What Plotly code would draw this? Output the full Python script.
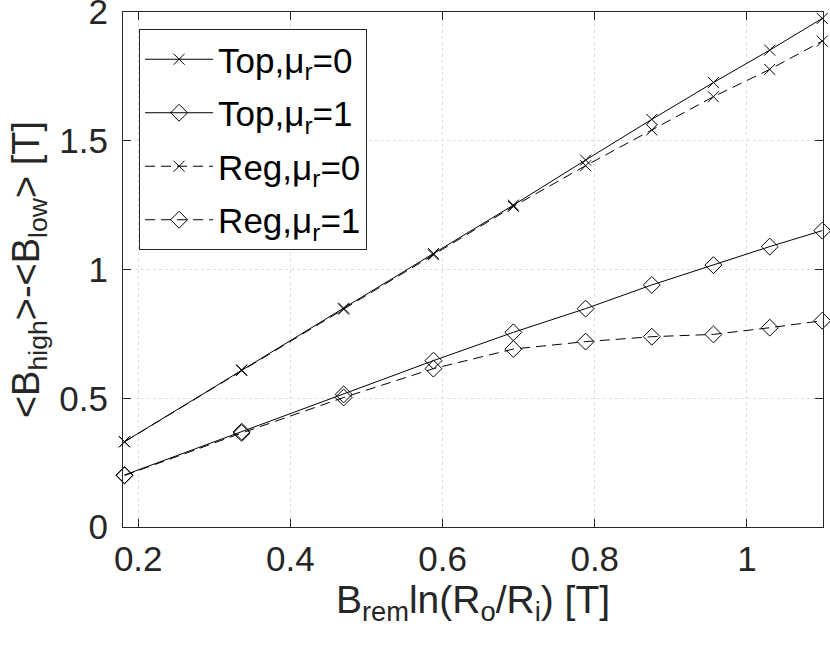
import plotly.graph_objects as go

# B_rem ln(Ro/Ri) values
x_vals = [0.182, 0.336, 0.470, 0.588, 0.693, 0.788, 0.875, 0.956, 1.030, 1.099]

top_mu0 = [0.331, 0.610, 0.850, 1.062, 1.250, 1.425, 1.583, 1.726, 1.852, 1.975]
top_mu1 = [0.202, 0.370, 0.515, 0.646, 0.756, 0.848, 0.940, 1.017, 1.089, 1.151]
reg_mu0 = [0.331, 0.608, 0.846, 1.057, 1.245, 1.403, 1.542, 1.671, 1.777, 1.887]
reg_mu1 = [0.200, 0.365, 0.503, 0.615, 0.691, 0.720, 0.739, 0.748, 0.774, 0.801]

x_ticks = [0.2, 0.4, 0.6, 0.8, 1.0]
x_ticktext = ['0.2', '0.4', '0.6', '0.8', '1']
y_ticks = [0, 0.5, 1, 1.5, 2]
y_ticktext = ['0', '0.5', '1', '1.5', '2']

series = [
    ('Top,\u03bc<sub>r</sub>=0', top_mu0, 'solid', 'x-thin-open', 11),
    ('Top,\u03bc<sub>r</sub>=1', top_mu1, 'solid', 'diamond-open', 13),
    ('Reg,\u03bc<sub>r</sub>=0', reg_mu0, '10px,6px', 'x-thin-open', 11),
    ('Reg,\u03bc<sub>r</sub>=1', reg_mu1, '10px,6px', 'diamond-open', 13),
]

FONT = 'Liberation Sans'
AX = '#262626'

fig = go.Figure()
for i, (name, y, dash, sym, size) in enumerate(series):
    fig.add_trace(go.Scatter(
        x=x_vals, y=y, name=name, mode='lines+markers',
        line=dict(color='black', width=1, dash=dash),
        marker=dict(symbol=sym, size=size, color='black',
                    line=dict(color='black', width=1)),
        cliponaxis=False, legendgroup=str(i),
    ))

axis_common = dict(
    showline=True, linecolor=AX, linewidth=1, mirror='ticks',
    ticks='inside', ticklen=8, tickcolor=AX, tickwidth=1,
    showgrid=True, gridcolor='#dedede', griddash='dot', gridwidth=1,
    zeroline=False, automargin=False, ticklabeloverflow='allow',
    tickfont=dict(family=FONT, size=35, color=AX),
)

fig.update_xaxes(range=[0.18, 1.1], tickvals=x_ticks, ticktext=x_ticktext,
                 title=dict(text='B<sub>rem</sub>ln(R<sub>o</sub>/R<sub>i</sub>) [T]',
                            font=dict(family=FONT, size=39, color=AX), standoff=4),
                 ticklabelstandoff=1, **axis_common)
fig.update_yaxes(range=[0, 2], tickvals=y_ticks, ticktext=y_ticktext,
                 title=dict(text='&lt;B<sub>high</sub>&gt;-&lt;B<sub>low</sub>&gt; [T]',
                            font=dict(family=FONT, size=38, color=AX), standoff=8),
                 ticklabelstandoff=7, **axis_common)

fig.update_layout(
    width=830, height=646, template='none',
    margin=dict(l=123, r=7, t=12, b=119),
    plot_bgcolor='white', paper_bgcolor='white',
    showlegend=True,
    legend=dict(x=0.023, y=0.967, xanchor='left', yanchor='top',
                bgcolor='white', bordercolor=AX, borderwidth=1,
                font=dict(family=FONT, size=35, color='black'),
                tracegroupgap=5, itemwidth=68),
)

# drop the browser's default page margin so the figure sits at (0, 0)
fig.write_html('out.html', config={'displayModeBar': False},
               post_script="document.body.style.margin='0';")
